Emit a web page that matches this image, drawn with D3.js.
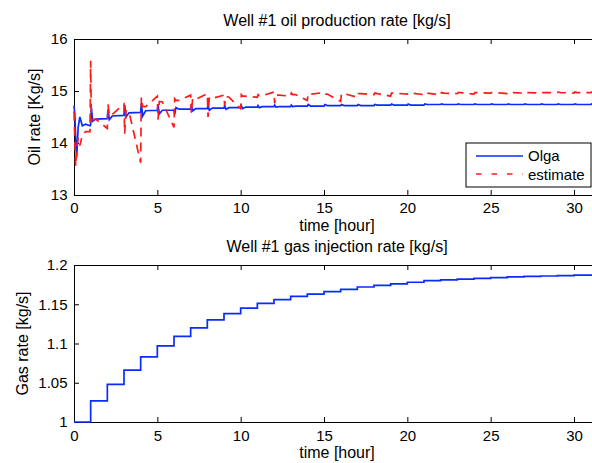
<!DOCTYPE html>
<html>
<head>
<meta charset="utf-8">
<script src="https://cdn.jsdelivr.net/npm/d3@7"></script>
<style>
body { margin: 0; background: #fff; }
text { font-family: "Liberation Sans", Arial, sans-serif; }
</style>
</head>
<body>
<svg id="chart" width="592" height="463"></svg>
<script>
// time points for the oil plot [hour]
var oilTime = [
	0, 0.05, 0.1, 0.16, 0.25, 0.35, 0.5, 0.7, 0.96,
	1, 1.04, 1.12, 1.3,
	2, 2.04, 2.12, 2.3,
	3, 3.04, 3.12, 3.3,
	4, 4.04, 4.12, 4.3,
	5, 5.04, 5.12, 5.3,
	6, 6.04, 6.12, 6.3,
	7, 7.04, 7.12, 7.3,
	8, 8.04, 8.12, 8.3,
	9, 9.04, 9.12, 9.3,
	10, 10.04, 10.12, 10.3,
	11, 11.04, 11.12, 11.3,
	12, 12.04, 12.12, 12.3,
	13, 13.04, 13.12, 13.3,
	14, 14.05, 14.2, 15, 15.05, 15.2, 16, 16.05, 16.2,
	17, 17.05, 17.2, 18, 18.05, 18.2, 19, 19.05, 19.2,
	20, 20.05, 20.2, 21, 21.05, 21.2, 22, 22.05, 22.2,
	23, 23.05, 23.2, 24, 24.05, 24.2, 25, 25.05, 25.2,
	26, 26.05, 26.2, 27, 27.05, 27.2, 28, 28.05, 28.2,
	29, 29.05, 29.2, 30, 30.05, 30.2, 31, 31.05, 31.2,
	31.6
];
var olgaRate = [
	14.72, 14.55, 14.1, 13.72, 14.3, 14.5, 14.33, 14.36, 14.33,
	14.35, 14.68, 14.42, 14.46,
	14.47, 14.64, 14.45, 14.52,
	14.53, 14.73, 14.5, 14.58,
	14.59, 14.76, 14.52, 14.62,
	14.63, 14.74, 14.56, 14.63,
	14.63, 14.55, 14.68, 14.65,
	14.65, 14.72, 14.62, 14.66,
	14.66, 14.73, 14.63, 14.67,
	14.67, 14.72, 14.65, 14.68,
	14.68, 14.72, 14.66, 14.69,
	14.69, 14.72, 14.68, 14.7,
	14.7, 14.73, 14.69, 14.7,
	14.7, 14.73, 14.7, 14.71,
	14.71, 14.74, 14.71, 14.71, 14.74, 14.72, 14.72, 14.74, 14.72,
	14.72, 14.74, 14.72, 14.72, 14.74, 14.73, 14.73, 14.75, 14.73,
	14.73, 14.75, 14.73, 14.73, 14.75, 14.74, 14.74, 14.75, 14.74,
	14.74, 14.75, 14.74, 14.74, 14.75, 14.74, 14.74, 14.75, 14.74,
	14.74, 14.75, 14.74, 14.74, 14.75, 14.74, 14.74, 14.75, 14.74,
	14.74, 14.75, 14.74, 14.74, 14.75, 14.74, 14.74, 14.75, 14.74,
	14.74
];
var estimateRate = [
	14.6, 14.05, 13.55, 13.9, 14.1, 13.95, 14.15, 14.22, 14.22,
	15.58, 14.45, 14.45, 14.46,
	14.28, 14.75, 14.52, 14.55,
	14.75, 14.18, 14.62, 14.6,
	13.62, 14.88, 14.7, 14.7,
	14.9, 14.45, 14.8, 14.79,
	14.3, 14.85, 14.82, 14.82,
	14.92, 14.57, 14.86, 14.84,
	14.95, 14.5, 14.88, 14.86,
	14.92, 14.72, 14.9, 14.88,
	14.66, 14.93, 14.9, 14.9,
	14.88, 14.93, 14.91, 14.91,
	14.98, 14.76, 14.92, 14.92,
	14.9, 14.96, 14.93, 14.93,
	14.82, 14.95, 14.94, 14.97, 14.94, 14.94, 14.8, 14.95, 14.95,
	14.88, 14.95, 14.95, 14.93, 14.96, 14.95, 14.9, 14.96, 14.96,
	14.94, 14.96, 14.96, 14.93, 14.97, 14.96, 14.92, 14.97, 14.96,
	14.95, 14.97, 14.97, 14.94, 14.97, 14.97, 14.96, 14.97, 14.97,
	14.95, 14.97, 14.97, 14.96, 14.98, 14.97, 14.96, 14.97, 14.97,
	14.97, 14.98, 14.97, 14.96, 14.98, 14.97, 14.97, 14.98, 14.97,
	14.97
];

// gas injection, one step per hour
var gasTime = [0, 1, 2, 3, 4, 5, 6, 7, 8, 9, 10, 11, 12, 13, 14, 15,
	16, 17, 18, 19, 20, 21, 22, 23, 24, 25, 26, 27, 28, 29, 30, 31, 31.6];
var gasRate = [1.0, 1.027, 1.048, 1.066, 1.083, 1.097, 1.109, 1.12, 1.13, 1.138, 1.145, 1.151, 1.156, 1.16, 1.163, 1.166,
	1.169, 1.172, 1.174, 1.176, 1.178, 1.18, 1.181, 1.182, 1.183, 1.184, 1.185, 1.1855, 1.186, 1.1865, 1.187, 1.187, 1.187];

var timeTicks = [0, 5, 10, 15, 20, 25, 30];
var oilTicks = [13, 14, 15, 16];
var gasTicks = [1, 1.05, 1.1, 1.15, 1.2];
var legendNames = ["Olga", "estimate"];

var svg = d3.select("#chart");
var left = 74, right = 600;

var x = d3.scaleLinear().domain([0, 31.56]).range([left, right]);
var yOil = d3.scaleLinear().domain([13, 16]).range([195, 39]);
var yGas = d3.scaleLinear().domain([1, 1.2]).range([422, 265]);

function drawFrame(y, ticks, top, bottom, title, ylabel, ylabelX, xpad) {
	var g = svg.append("g");
	g.append("g")
		.attr("transform", `translate(0, ${bottom})`)
		.call(d3.axisBottom(x).tickValues(timeTicks).tickSizeInner(-5).tickSizeOuter(0).tickPadding(xpad));
	g.append("g")
		.attr("transform", `translate(0, ${top})`)
		.call(d3.axisTop(x).tickValues(timeTicks).tickSizeInner(-5).tickSizeOuter(0).tickFormat(""));
	g.append("g")
		.attr("transform", `translate(${left}, 0)`)
		.call(d3.axisLeft(y).tickValues(ticks).tickSizeInner(-5).tickSizeOuter(0).tickPadding(6.5).tickFormat(d => String(d)));
	g.selectAll(".domain").attr("stroke", "#000").attr("stroke-width", 1);
	g.selectAll(".tick line").attr("stroke", "#000");
	g.selectAll(".tick text").attr("font-size", "15px").attr("fill", "#000");

	svg.append("text")
		.attr("x", (left + right) / 2)
		.attr("y", top - 13)
		.attr("text-anchor", "middle")
		.attr("font-size", "16px")
		.text(title);
	svg.append("text")
		.attr("x", (left + right) / 2)
		.attr("y", bottom + 36)
		.attr("text-anchor", "middle")
		.attr("font-size", "16px")
		.text("time [hour]");
	svg.append("text")
		.attr("transform", `translate(${ylabelX}, ${(top + bottom) / 2}) rotate(-90)`)
		.attr("text-anchor", "middle")
		.attr("font-size", "16px")
		.text(ylabel);
}

drawFrame(yOil, oilTicks, 39, 195, "Well #1 oil production rate [kg/s]", "Oil rate [Kg/s]", 40, 7.5);
drawFrame(yGas, gasTicks, 265, 422, "Well #1 gas injection rate [kg/s]", "Gas rate [kg/s]", 28, 8.5);

var oilLine = d3.line()
	.x(i => x(oilTime[i]));

svg.append("path")
	.attr("d", oilLine.y(i => yOil(olgaRate[i]))(d3.range(oilTime.length)))
	.attr("fill", "none")
	.attr("stroke", "#0a2cff")
	.attr("stroke-width", 1.7);

svg.append("path")
	.attr("d", oilLine.y(i => yOil(estimateRate[i]))(d3.range(oilTime.length)))
	.attr("fill", "none")
	.attr("stroke", "#ff1a1a")
	.attr("stroke-width", 1.7)
	.attr("stroke-dasharray", "9,6");

svg.append("path")
	.attr("d", d3.line().curve(d3.curveStepAfter)
		.x(i => x(gasTime[i]))
		.y(i => yGas(gasRate[i]))(d3.range(gasTime.length)))
	.attr("fill", "none")
	.attr("stroke", "#0a2cff")
	.attr("stroke-width", 1.7);

// legend
var legend = svg.append("g");
legend.append("rect")
	.attr("x", 466).attr("y", 143)
	.attr("width", 125).attr("height", 44)
	.attr("fill", "#fff").attr("stroke", "#000");
legendNames.forEach((name, i) => {
	legend.append("line")
		.attr("x1", 476).attr("x2", 523)
		.attr("y1", 156 + i * 18).attr("y2", 156 + i * 18)
		.attr("stroke", i == 0 ? "#0a2cff" : "#ff1a1a")
		.attr("stroke-width", 1.7)
		.attr("stroke-dasharray", i == 0 ? null : "5.5,10");
	legend.append("text")
		.attr("x", 528).attr("y", 161 + i * 18.5)
		.attr("font-size", "15px")
		.text(name);
});
</script>
</body>
</html>
